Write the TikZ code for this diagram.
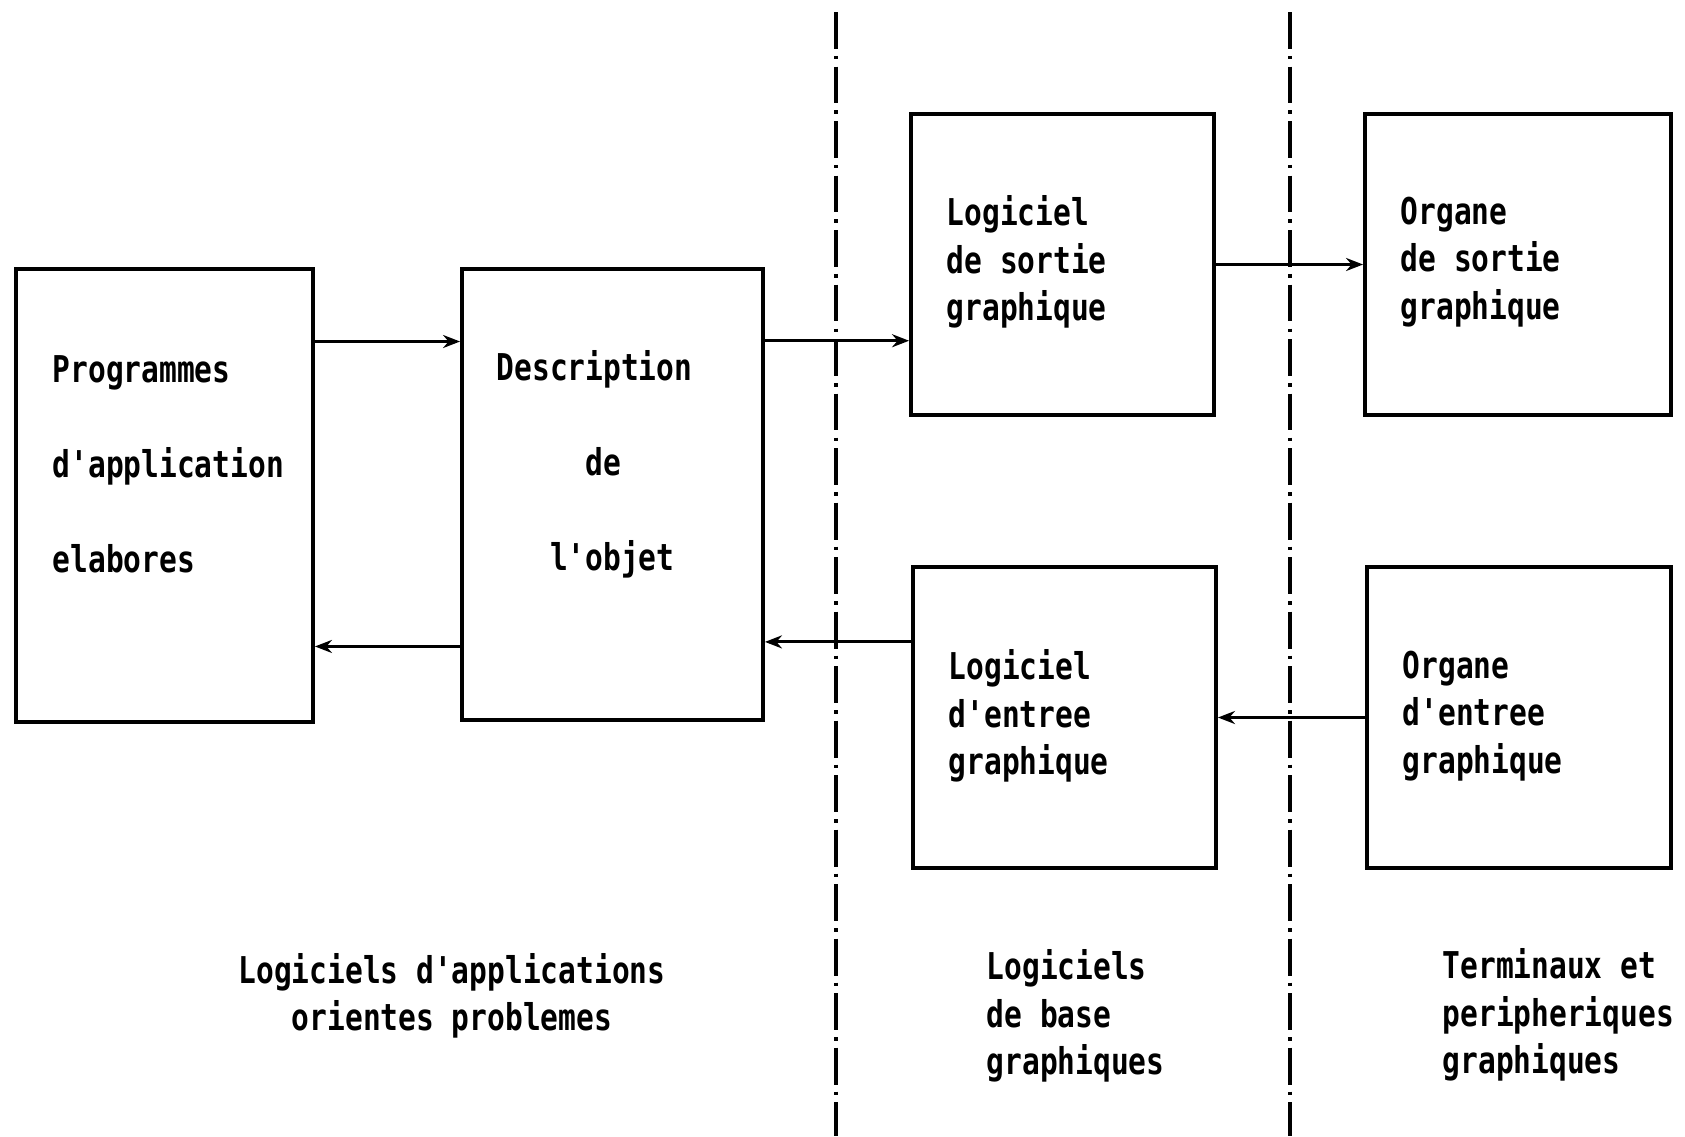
\documentclass[tikz,border=0pt]{standalone}
\usepackage{fontspec}
\newfontfamily\plotfont[FakeStretch=0.8]{DejaVu Sans Mono}
\usetikzlibrary{arrows.meta, calc}
\tikzset{
    box/.style={rectangle, draw=black, line width=1.05pt, inner sep=0pt},
    boxtext/.style={inner sep=0pt, align=left, font={\plotfont\bfseries\fontsize{10.5}{13.5}\selectfont}},
    arrow/.style={-{Stealth[length=1.7mm, width=1.3mm]}, line width=0.8pt},
    sepline/.style={line width=0.95pt, dash pattern=on 10.5pt off 2pt on 1pt off 2pt}
}

\begin{document}
\begin{tikzpicture}[x=0.01cm, y=-0.01cm]
    \useasboundingbox (0,0) rectangle (1685,1136);

    % separateurs
    \draw[sepline] (836,12) -- (836,1136);
    \draw[sepline] (1290,12) -- (1290,1136);

    % blocs
    \node[box, minimum width=2.97cm, minimum height=4.53cm] (prog) at (164.5,495.5) {};
    \node[box, minimum width=3.01cm, minimum height=4.51cm] (desc) at (612.5,494.5) {};
    \node[box, minimum width=3.03cm, minimum height=3.01cm] (logsort) at (1062.5,264.5) {};
    \node[box, minimum width=3.06cm, minimum height=3.01cm] (orgsort) at (1518,264.5) {};
    \node[box, minimum width=3.03cm, minimum height=3.01cm] (logent) at (1064.5,717.5) {};
    \node[box, minimum width=3.04cm, minimum height=3.01cm] (orgent) at (1519,717.5) {};

    % textes des blocs
    \node[boxtext, anchor=west] (prog-txt) at (52,464) {Programmes\\[13.5pt]d'application\\[13.5pt]elabores};
    \node[boxtext, anchor=west] (desc-txt) at (496,464) {Description\\[13.5pt]\hphantom{xxxxx}de\\[13.5pt]\hphantom{xxx}l'objet};
    \node[boxtext, anchor=west] (logsort-txt) at (946,262) {Logiciel\\de sortie\\graphique};
    \node[boxtext, anchor=west] (orgsort-txt) at (1400,262) {Organe\\de sortie\\graphique};
    \node[boxtext, anchor=west] (logent-txt) at (948,716) {Logiciel\\d'entree\\graphique};
    \node[boxtext, anchor=west] (orgent-txt) at (1402,716) {Organe\\d'entree\\graphique};

    % fleches
    \coordinate (pd) at ($(prog.north east)!.163!(prog.south east)$);
    \coordinate (dl) at ($(desc.north east)!.162!(desc.south east)$);
    \coordinate (ld) at ($(logent.north west)!.252!(logent.south west)$);
    \coordinate (dp) at ($(desc.north west)!.834!(desc.south west)$);
    \draw[arrow] (pd) -- (pd -| desc.west);
    \draw[arrow] (dl) -- (dl -| logsort.west);
    \draw[arrow] (logsort.east) -- (logsort.east -| orgsort.west);
    \draw[arrow] (orgent.west) -- (orgent.west -| logent.east);
    \draw[arrow] (ld) -- (ld -| desc.east);
    \draw[arrow] (dp) -- (dp -| prog.east);

    % legendes
    \node[boxtext, align=center] (app-txt) at (452,996) {Logiciels d'applications\\orientes problemes};
    \node[boxtext, anchor=west] (base-txt) at (986,1016) {Logiciels\\de base\\graphiques};
    \node[boxtext, anchor=west] (term-txt) at (1442,1015) {Terminaux et\\peripheriques\\graphiques};
\end{tikzpicture}
\end{document}
